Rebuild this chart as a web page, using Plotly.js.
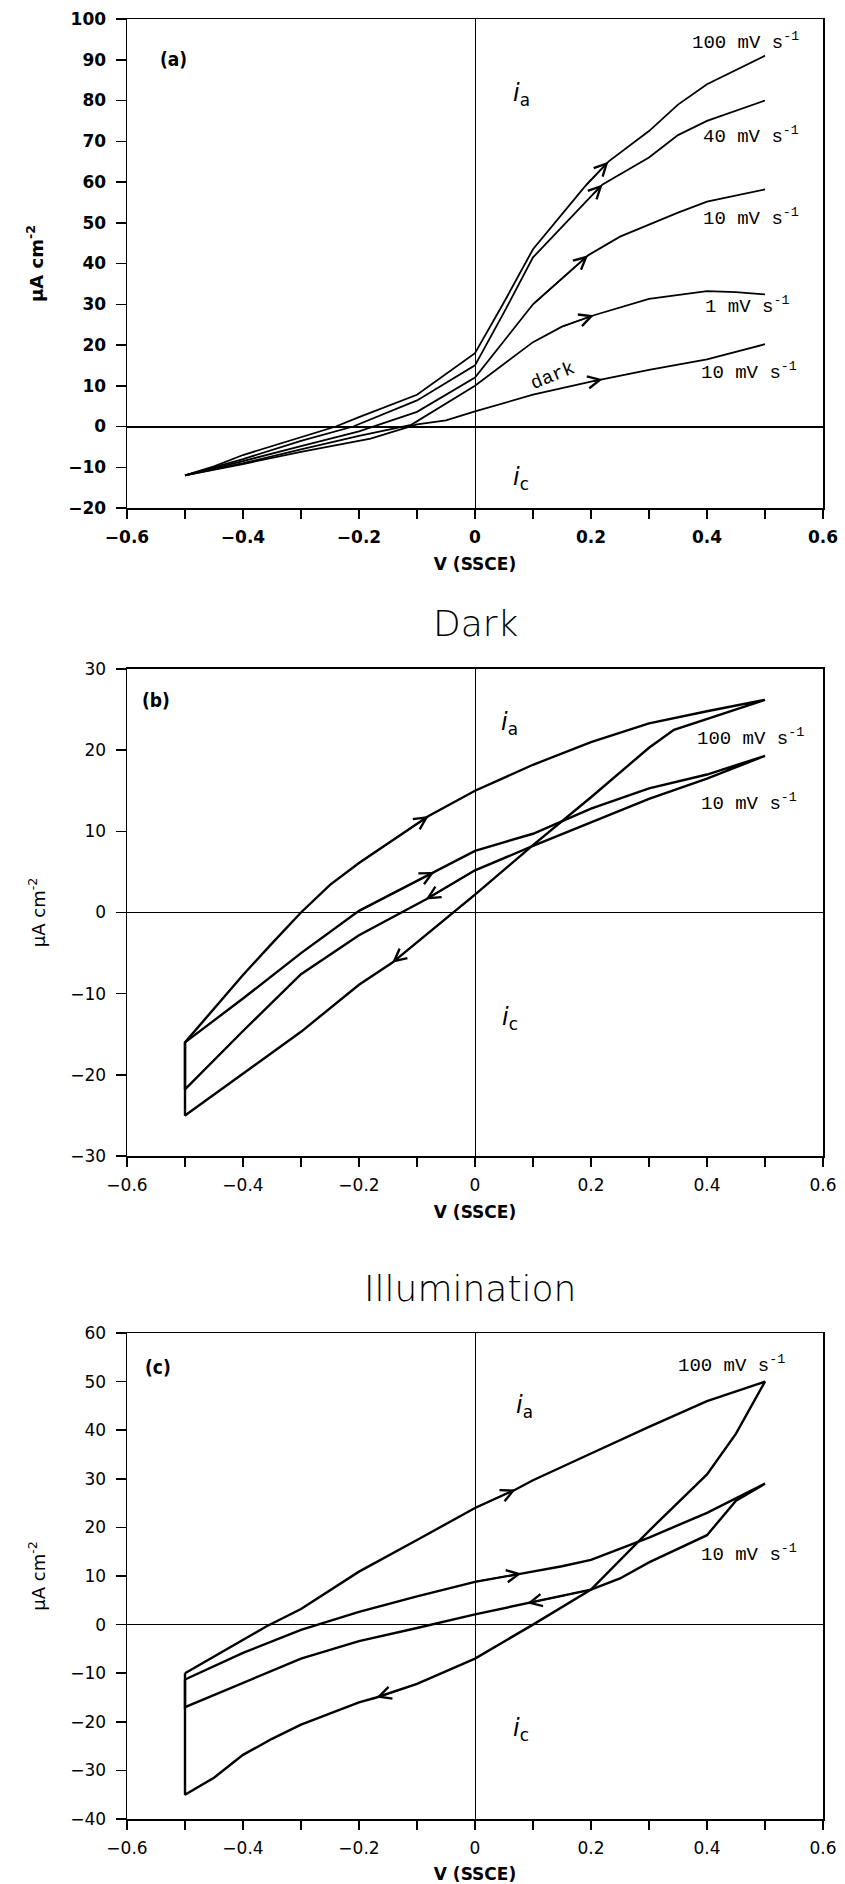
<!DOCTYPE html>
<html><head><meta charset="utf-8">
<script src="https://cdn.plot.ly/plotly-3.0.1.min.js"></script>
<style>html,body{margin:0;padding:0;background:#fff}</style>
</head><body>
<div id="chart" style="width:845px;height:1884px"></div>
<script>
// ---------- Panel (a): anodic sweeps, various scan rates ----------
const volt_a100 = [-0.5,-0.45,-0.4,-0.3,-0.24,-0.2,-0.1,0,0.05,0.1,0.19,0.23,0.3,0.35,0.4,0.5];
const cur_a100  = [-12,-9.8,-7,-2.6,0,2.3,7.8,18,30.5,43.5,59,65,72.5,79,84,91];
const arrow_a100 = 11;
const volt_a40 = [-0.5,-0.4,-0.3,-0.21,-0.1,0,0.05,0.1,0.2,0.22,0.3,0.35,0.4,0.5];
const cur_a40  = [-12,-8,-3.5,0,6.4,15,28,41.5,56.5,59.4,66,71.5,75,80];
const arrow_a40 = 9;
const volt_a10 = [-0.5,-0.4,-0.3,-0.2,-0.1,0,0.1,0.195,0.25,0.3,0.35,0.4,0.5];
const cur_a10  = [-12,-8.5,-4.8,-1.2,3.6,12,30,42,46.6,49.6,52.5,55.2,58.2];
const arrow_a10 = 7;
const volt_a1 = [-0.5,-0.4,-0.3,-0.2,-0.11,0,0.1,0.15,0.205,0.3,0.4,0.45,0.5];
const cur_a1  = [-12,-9,-5.6,-2.3,0.4,10,20.7,24.5,27.3,31.3,33.2,33,32.4];
const arrow_a1 = 8;
const volt_adark = [-0.5,-0.4,-0.3,-0.18,-0.1,-0.05,0,0.1,0.2,0.22,0.3,0.4,0.5];
const cur_adark  = [-12,-9.2,-6.2,-3,0.5,1.5,3.7,7.8,11,11.6,13.9,16.5,20.2];
const arrow_adark = 9;

// ---------- Panel (b): Dark cyclic voltammograms ----------
const volt_b100_fwd = [-0.5,-0.44,-0.4,-0.35,-0.3,-0.25,-0.2,-0.08,0,0.1,0.2,0.3,0.4,0.5];
const cur_b100_fwd  = [-16,-11,-7.7,-3.8,0,3.4,6.1,11.9,15,18.2,21,23.3,24.8,26.2];
const arrow_b100_fwd = 7;
const volt_b100_ret = [0.5,0.343,0.3,0.2,0.1,0,-0.143,-0.2,-0.3,-0.4,-0.5,-0.5];
const cur_b100_ret  = [26.2,22.5,20.3,14.2,8.3,2.2,-6.2,-8.9,-14.7,-19.9,-25,-16];
const arrow_b100_ret = 6;
const volt_b10_fwd = [-0.5,-0.4,-0.3,-0.2,-0.07,0,0.1,0.2,0.3,0.4,0.5];
const cur_b10_fwd  = [-16,-10.6,-5,0.2,5,7.6,9.7,12.8,15.3,17,19.3];
const arrow_b10_fwd = 4;
const volt_b10_ret = [0.5,0.4,0.3,0.2,0.1,0,-0.085,-0.2,-0.3,-0.4,-0.5,-0.5];
const cur_b10_ret  = [19.3,16.5,14,11.1,8.2,5.2,1.6,-2.8,-7.6,-14.6,-21.8,-16];
const arrow_b10_ret = 6;

// ---------- Panel (c): Illumination cyclic voltammograms ----------
const volt_c100_fwd = [-0.5,-0.36,-0.3,-0.2,-0.1,0,0.07,0.1,0.2,0.3,0.4,0.5];
const cur_c100_fwd  = [-10,-0.4,3.2,10.9,17.4,24,27.8,29.7,35.2,40.7,46,50];
const arrow_c100_fwd = 6;
const volt_c100_ret = [0.5,0.45,0.4,0.3,0.2,0.1,0,-0.1,-0.17,-0.2,-0.3,-0.35,-0.4,-0.45,-0.5,-0.5];
const cur_c100_ret  = [50,39.3,30.9,19.3,7.2,0,-7,-12.2,-15,-16,-20.6,-23.5,-26.8,-31.5,-35,-10];
const arrow_c100_ret = 8;
const volt_c10_fwd = [-0.5,-0.4,-0.3,-0.2,-0.1,0,0.08,0.15,0.2,0.3,0.4,0.5];
const cur_c10_fwd  = [-11.3,-5.8,-1.1,2.6,5.8,8.8,10.5,12,13.3,17.9,23,29];
const arrow_c10_fwd = 6;
const volt_c10_ret = [0.5,0.45,0.4,0.3,0.25,0.2,0.09,0,-0.1,-0.2,-0.3,-0.4,-0.5,-0.5];
const cur_c10_ret  = [29,25.5,18.4,12.8,9.5,7.2,4.4,2.1,-0.7,-3.4,-7,-12,-17,-11.3];
const arrow_c10_ret = 6;

// tick settings
const xTickStart = -0.6, xTickStep = 0.2, xMinorStep = 0.1;
const yTickStep = 10;

// ---------- build ----------
const traces = [];
const annotations = [];
const BLACK = '#000';

function addCurve(xs, ys, ax, ay, w, name) {
  traces.push({x: xs, y: ys, xaxis: ax, yaxis: ay, mode: 'lines', name: name,
    line: {color: BLACK, width: w}, hoverinfo: 'skip', showlegend: false});
}
function addArrow(xs, ys, k, ax, ay) {
  annotations.push({x: xs[k], y: ys[k], ax: xs[k-1], ay: ys[k-1],
    xref: ax, yref: ay, axref: ax, ayref: ay, text: '', showarrow: true,
    arrowhead: 5, arrowsize: 1.6, arrowwidth: 1.5, arrowcolor: BLACK, standoff: 0});
}
function loop(f_x, f_y, r_x, r_y) {
  return [f_x.concat(r_x.slice(1)), f_y.concat(r_y.slice(1))];
}

// panel a
const wa = 1.8;
addCurve(volt_a100, cur_a100, 'x', 'y', wa, '100 mV/s');
addCurve(volt_a40, cur_a40, 'x', 'y', wa, '40 mV/s');
addCurve(volt_a10, cur_a10, 'x', 'y', wa, '10 mV/s');
addCurve(volt_a1, cur_a1, 'x', 'y', wa, '1 mV/s');
addCurve(volt_adark, cur_adark, 'x', 'y', wa, 'dark 10 mV/s');
addArrow(volt_a100, cur_a100, arrow_a100, 'x', 'y');
addArrow(volt_a40, cur_a40, arrow_a40, 'x', 'y');
addArrow(volt_a10, cur_a10, arrow_a10, 'x', 'y');
addArrow(volt_a1, cur_a1, arrow_a1, 'x', 'y');
addArrow(volt_adark, cur_adark, arrow_adark, 'x', 'y');

// panel b
const wb = 2.4;
let L = loop(volt_b100_fwd, cur_b100_fwd, volt_b100_ret, cur_b100_ret);
addCurve(L[0], L[1], 'x2', 'y2', wb, '100 mV/s');
L = loop(volt_b10_fwd, cur_b10_fwd, volt_b10_ret, cur_b10_ret);
addCurve(L[0], L[1], 'x2', 'y2', wb, '10 mV/s');
addArrow(volt_b100_fwd, cur_b100_fwd, arrow_b100_fwd, 'x2', 'y2');
addArrow(volt_b100_ret, cur_b100_ret, arrow_b100_ret, 'x2', 'y2');
addArrow(volt_b10_fwd, cur_b10_fwd, arrow_b10_fwd, 'x2', 'y2');
addArrow(volt_b10_ret, cur_b10_ret, arrow_b10_ret, 'x2', 'y2');

// panel c
L = loop(volt_c100_fwd, cur_c100_fwd, volt_c100_ret, cur_c100_ret);
addCurve(L[0], L[1], 'x3', 'y3', wb, '100 mV/s');
L = loop(volt_c10_fwd, cur_c10_fwd, volt_c10_ret, cur_c10_ret);
addCurve(L[0], L[1], 'x3', 'y3', wb, '10 mV/s');
addArrow(volt_c100_fwd, cur_c100_fwd, arrow_c100_fwd, 'x3', 'y3');
addArrow(volt_c100_ret, cur_c100_ret, arrow_c100_ret, 'x3', 'y3');
addArrow(volt_c10_fwd, cur_c10_fwd, arrow_c10_fwd, 'x3', 'y3');
addArrow(volt_c10_ret, cur_c10_ret, arrow_c10_ret, 'x3', 'y3');

// text labels
const MONO = {family: 'Liberation Mono, DejaVu Sans Mono, monospace', size: 19, color: BLACK};
const LBL = {family: 'DejaVu Sans Condensed, DejaVu Sans, sans-serif', size: 19, color: BLACK, weight: 'bold'};
const ILBL = {family: 'DejaVu Sans, sans-serif', size: 24, color: BLACK};
function txt(x, y, xr, yr, t, font, extra) {
  annotations.push(Object.assign({x: x, y: y, xref: xr, yref: yr, text: t, showarrow: false,
    font: font, xanchor: 'center', yanchor: 'middle'}, extra || {}));
}
const rate = v => v + ' mV s<sup>-1</sup>';
txt(-0.52, 90.3, 'x', 'y', '(a)', LBL);
txt(0.08, 81.4, 'x', 'y', '<i>i</i><sub>a</sub>', ILBL);
txt(0.08, -12.8, 'x', 'y', '<i>i</i><sub>c</sub>', ILBL);
txt(0.467, 94.4, 'x', 'y', rate(100), MONO);
txt(0.476, 71.5, 'x', 'y', rate(40), MONO);
txt(0.476, 51.2, 'x', 'y', rate(10), MONO);
txt(0.469, 29.8, 'x', 'y', rate(1), MONO);
txt(0.472, 13.5, 'x', 'y', rate(10), MONO);
txt(0.135, 12.4, 'x', 'y', 'dark', MONO, {textangle: -22});

txt(-0.55, 26.2, 'x2', 'y2', '(b)', LBL);
txt(0.06, 23.3, 'x2', 'y2', '<i>i</i><sub>a</sub>', ILBL);
txt(0.06, -13, 'x2', 'y2', '<i>i</i><sub>c</sub>', ILBL);
txt(0.475, 21.6, 'x2', 'y2', rate(100), MONO);
txt(0.472, 13.6, 'x2', 'y2', rate(10), MONO);

txt(-0.546, 53.1, 'x3', 'y3', '(c)', LBL);
txt(0.085, 44.8, 'x3', 'y3', '<i>i</i><sub>a</sub>', ILBL);
txt(0.08, -21.5, 'x3', 'y3', '<i>i</i><sub>c</sub>', ILBL);
txt(0.442, 53.6, 'x3', 'y3', rate(100), MONO);
txt(0.472, 14.6, 'x3', 'y3', rate(10), MONO);

const TITLEF = {family: 'DejaVu Sans, sans-serif', size: 36, color: BLACK, weight: 200};
txt(0.5, 0.6644, 'paper', 'paper', 'Dark', TITLEF);
txt(0.493, 0.295, 'paper', 'paper', 'Illumination', TITLEF);

// axes
function xaxis(anchor, bold) {
  return {anchor: anchor, domain: [0, 1], range: [-0.6, 0.6], tick0: xTickStart, dtick: xTickStep,
    ticks: 'outside', ticklen: 9, tickwidth: 1.5, tickcolor: BLACK,
    minor: {tick0: xTickStart, dtick: xMinorStep, ticks: 'outside', ticklen: 9, tickwidth: 1.5, tickcolor: BLACK, showgrid: false},
    showline: true, linewidth: 1.5, linecolor: BLACK, mirror: true,
    zeroline: true, zerolinewidth: 1, zerolinecolor: BLACK, showgrid: false,
    ticklabelstandoff: 4,
    tickfont: {family: 'DejaVu Sans, sans-serif', size: 17, color: BLACK, weight: bold ? 'bold' : 'normal'},
    title: {text: 'V (SSCE)', standoff: 12,
      font: {family: 'DejaVu Sans, sans-serif', size: 17, color: BLACK, weight: 'bold'}}};
}
function yaxis(anchor, domain, range, bold, zw) {
  return {anchor: anchor, domain: domain, range: range, dtick: yTickStep,
    ticks: 'outside', ticklen: 10, tickwidth: 1.5, tickcolor: BLACK,
    showline: true, linewidth: 1.5, linecolor: BLACK, mirror: true,
    zeroline: true, zerolinewidth: zw, zerolinecolor: BLACK, showgrid: false,
    ticklabelstandoff: 6,
    tickfont: {family: 'DejaVu Sans, sans-serif', size: 17, color: BLACK, weight: bold ? 'bold' : 'normal'},
    title: {text: 'µA cm<sup>-2</sup>', standoff: 20,
      font: {family: 'DejaVu Sans, sans-serif', size: 18, color: BLACK, weight: bold ? 'bold' : 'normal'}}};
}

const layout = {
  width: 845, height: 1884,
  margin: {l: 127, r: 22, t: 19, b: 65},
  paper_bgcolor: '#fff', plot_bgcolor: '#fff',
  showlegend: false,
  xaxis: xaxis('y', true),
  yaxis: yaxis('x', [0.72833, 1], [-20, 100], true, 2),
  xaxis2: xaxis('y2', false),
  yaxis2: yaxis('x2', [0.36833, 0.63889], [-30, 30], false, 1),
  xaxis3: xaxis('y3', false),
  yaxis3: yaxis('x3', [0, 0.27], [-40, 60], false, 1),
  annotations: annotations
};

Plotly.newPlot('chart', traces, layout, {displayModeBar: false, staticPlot: true});
</script>
</body></html>
